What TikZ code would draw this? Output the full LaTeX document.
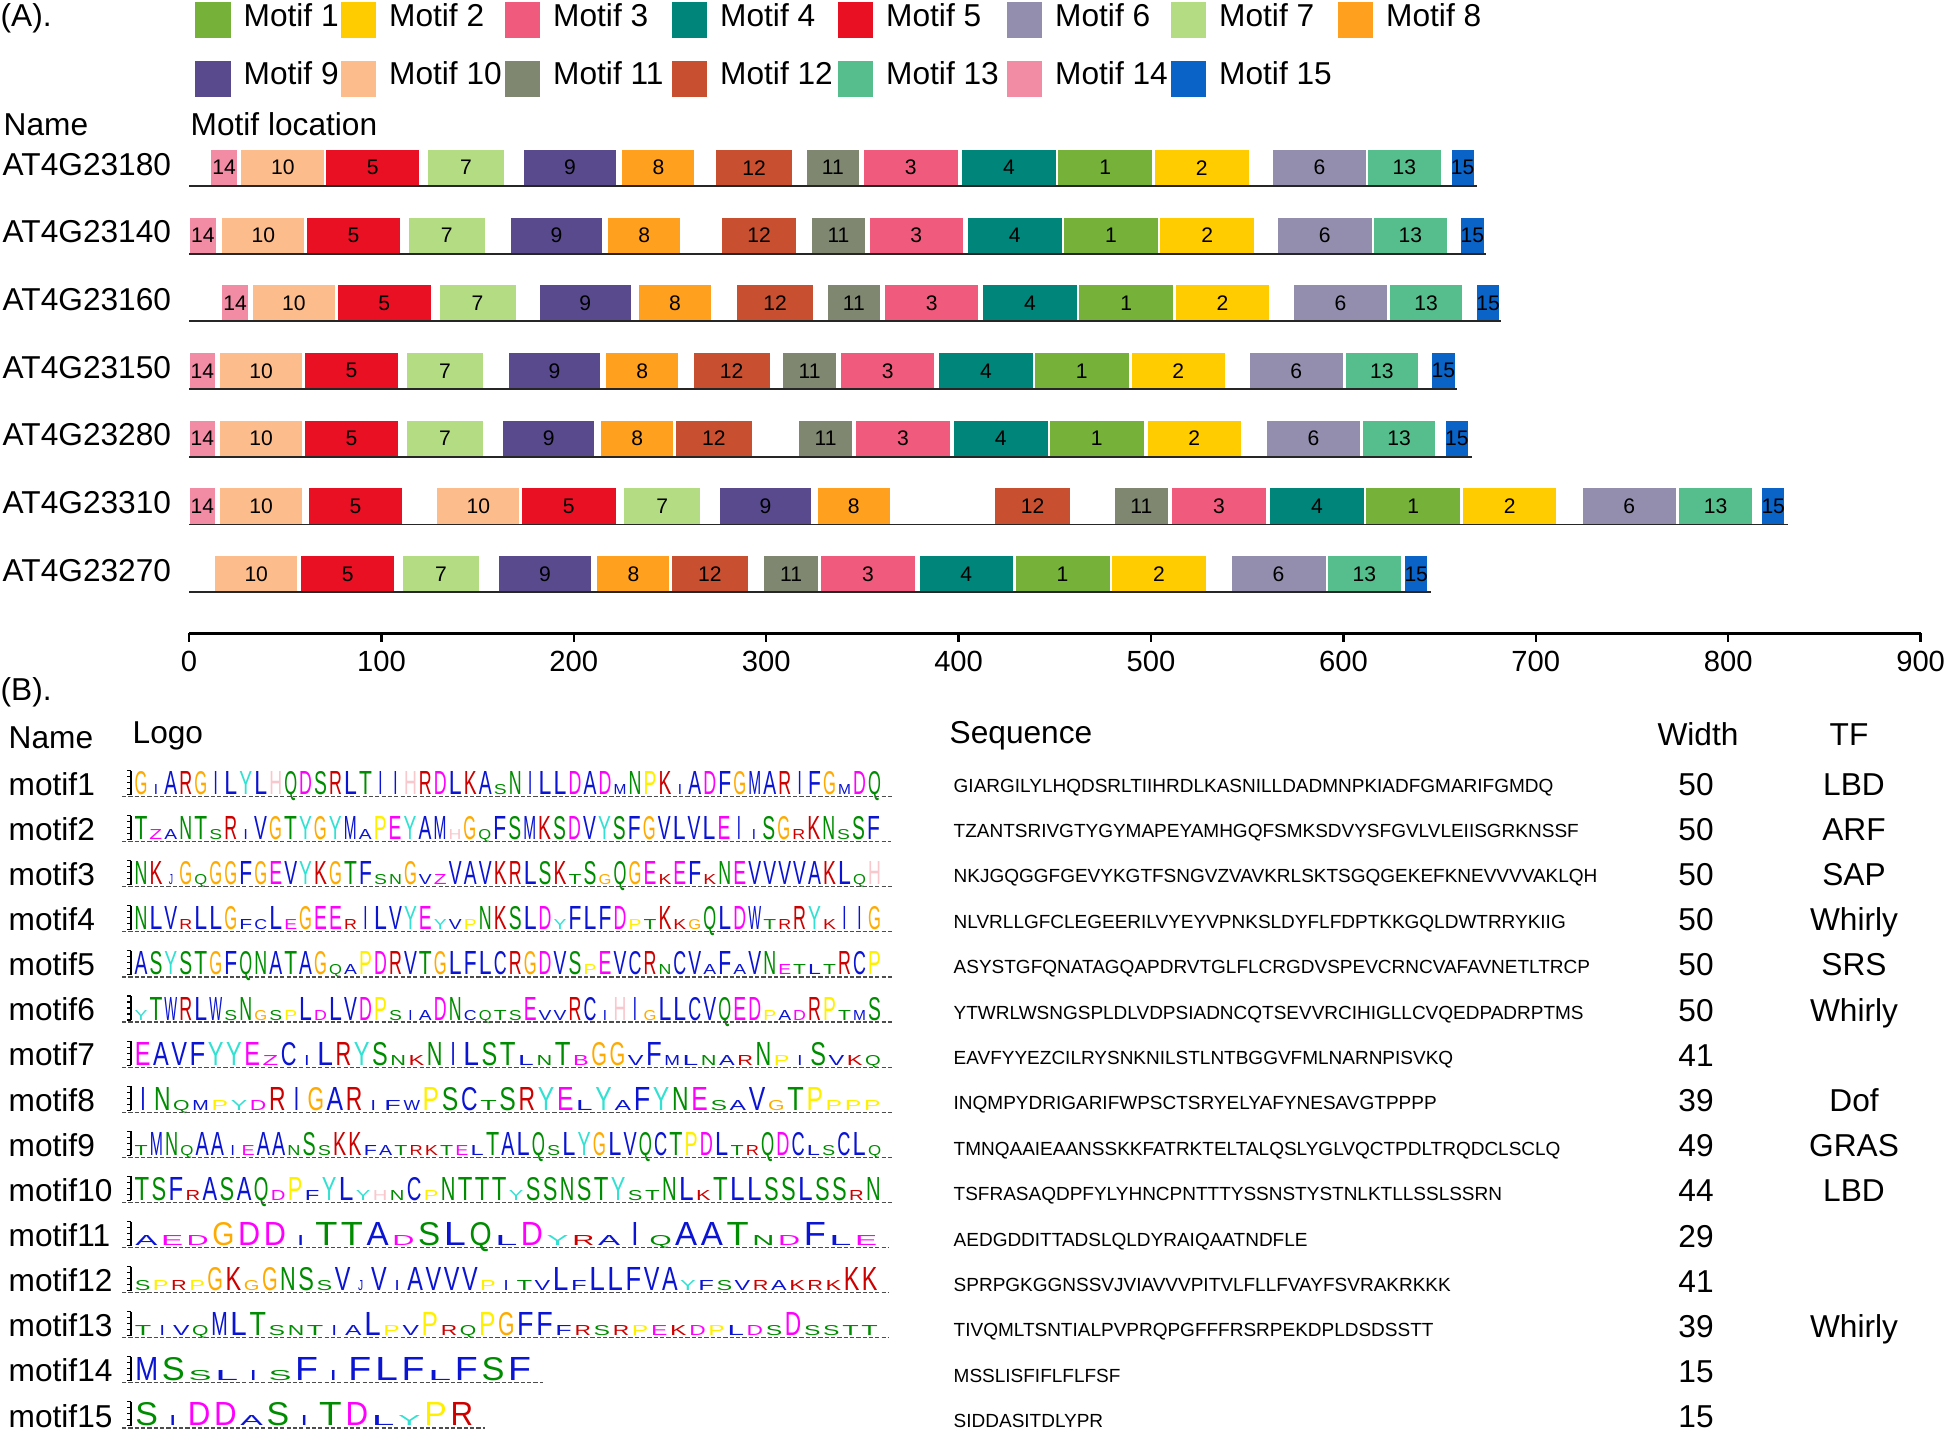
\documentclass[tikz,border=0pt]{standalone}
\usepackage{fontspec}
\setmainfont{Liberation Sans}
\usepackage{graphicx}
\usepackage{xcolor}
\usetikzlibrary{positioning}

% motif colours (panel A)
\definecolor{mc1}{RGB}{118,178,57}
\definecolor{mc2}{RGB}{255,204,0}
\definecolor{mc3}{RGB}{240,90,125}
\definecolor{mc4}{RGB}{0,133,122}
\definecolor{mc5}{RGB}{234,16,36}
\definecolor{mc6}{RGB}{148,142,174}
\definecolor{mc7}{RGB}{180,220,130}
\definecolor{mc8}{RGB}{255,160,30}
\definecolor{mc9}{RGB}{88,74,140}
\definecolor{mc10}{RGB}{253,188,140}
\definecolor{mc11}{RGB}{127,135,113}
\definecolor{mc12}{RGB}{200,80,48}
\definecolor{mc13}{RGB}{86,190,140}
\definecolor{mc14}{RGB}{242,140,165}
\definecolor{mc15}{RGB}{10,100,200}

% logo letter colours (panel B)
\definecolor{lgBlue}{RGB}{10,20,210}
\definecolor{lgGreen}{RGB}{0,140,0}
\definecolor{lgMag}{RGB}{255,0,255}
\definecolor{lgRed}{RGB}{205,0,0}
\definecolor{lgPink}{RGB}{248,200,205}
\definecolor{lgOrange}{RGB}{255,170,0}
\definecolor{lgYellow}{RGB}{255,240,0}
\definecolor{lgTurq}{RGB}{50,225,210}
\colorlet{aaA}{lgBlue}\colorlet{aaC}{lgBlue}\colorlet{aaF}{lgBlue}
\colorlet{aaI}{lgBlue}\colorlet{aaL}{lgBlue}\colorlet{aaM}{lgBlue}
\colorlet{aaV}{lgBlue}\colorlet{aaW}{lgBlue}\colorlet{aaJ}{lgBlue}
\colorlet{aaN}{lgGreen}\colorlet{aaQ}{lgGreen}\colorlet{aaS}{lgGreen}
\colorlet{aaT}{lgGreen}
\colorlet{aaD}{lgMag}\colorlet{aaE}{lgMag}\colorlet{aaB}{lgMag}
\colorlet{aaZ}{lgMag}
\colorlet{aaK}{lgRed}\colorlet{aaR}{lgRed}
\colorlet{aaH}{lgPink}\colorlet{aaG}{lgOrange}\colorlet{aaP}{lgYellow}
\colorlet{aaY}{lgTurq}

% one logo letter: capital = tall column, small letter = low column
\newcount\lgi
\def\lgIchar{I}
\def\lgJchar{J}
\newcommand\logoglyph[1]{%
  \ifnum\lccode`#1=`#1\relax\def\lgh{0.1cm}\else\def\lgh{0.23cm}\fi
  \uppercase{\def\lgU{#1}}%
  \let\lgww\lgw
  \ifx\lgU\lgIchar\let\lgww\lgwi\fi
  \ifx\lgU\lgJchar\let\lgww\lgwi\fi
  \color{aa\lgU}\resizebox{\lgww}{\lgh}{\lgU}}

\makeatletter
\newcommand\drawlogo[4]{% #1 motif, #2 baseline, #3 column width, #4 letters
  \global\lgi=0
  \pgfmathsetlengthmacro\lgw{0.86*#3*0.01cm}%
  \pgfmathsetlengthmacro\lgwi{0.28*#3*0.01cm}%
  \@tfor\lgc:=#4\do{%
    \pgfmathsetmacro\lgx{133.5+(\the\lgi+0.5)*#3}%
    \node[logoch] (logo#1-\the\lgi) at (\lgx,#2) {\expandafter\logoglyph\lgc};%
    \global\advance\lgi by 1\relax}%
  \draw[logoaxis] (131,#2) -- (131,{#2-24});
  \foreach \t in {0,...,4}{\draw[logoaxis] (131,{#2-6*\t}) -- (127,{#2-6*\t});}
  \draw[logobase] (122,{#2+2}) -- ({143.5+\the\lgi*#3},{#2+2});
}
\makeatother

\begin{document}
\begin{tikzpicture}[x=0.01cm,y=-0.01cm,
  lbl/.style={font=\fontsize{9}{11}\selectfont,inner sep=0pt,anchor=base west},
  lgdsq/.style={minimum width=0.355cm,minimum height=0.36cm,inner sep=0pt,
                anchor=north west},
  mbar/.style={draw=white,line width=0.3pt,minimum height=0.367cm,inner sep=0pt,
               font=\fontsize{6}{7}\selectfont},
  protline/.style={line width=0.55pt,draw=black!85},
  axisline/.style={line width=0.7pt},
  seqtxt/.style={font=\fontsize{5.4}{6}\selectfont,inner sep=0pt,anchor=base west},
  logoch/.style={anchor=base,inner sep=0pt},
  logobase/.style={dash pattern=on 1.2pt off 0.6pt,line width=0.35pt,draw=black!70},
  logoaxis/.style={line width=0.3pt}]

\useasboundingbox (0,0) rectangle (1946,1433);

% ===== PANEL A — legend =====
\node[lbl] (pA) at (0,26.7) {(A).};
\foreach \m/\x/\y in {1/194.5/1.7,2/340/1.7,3/504/1.7,4/671/1.7,5/837/1.7,
                      6/1006/1.7,7/1170/1.7,8/1337/1.7,
                      9/194.5/60,10/340/60,11/504/60,12/671/60,13/837/60,
                      14/1006/60,15/1170/60}{
  \node[lgdsq,fill=mc\m] (key\m) at (\x,\y) {};
  \node[lbl] (keyt\m) at ({\x+48.5},{\y+24.5}) {Motif \m};
}

\node[lbl] (hName) at (3,135) {Name};
\node[lbl] (hLoc) at (190,135) {Motif location};

% ===== PANEL A — motif bars per gene =====
\foreach \r/\g/\len/\segs in {
 1/AT4G23180/669.6/{14/11.2/25.4,10/27/70.5,5/71/120,7/124/164,9/174/222,8/225/263,12/273.7/313.7,11/320.7/348.6,3/350.6/399.7,4/401.5/450.9,1/451.5/500.9,2/501.6/551,6/563/612,13/612.6/650.8,15/656/668},
 2/AT4G23140/674/{14/0.2/14.3,10/17/60.2,5/61/110,7/114/154,9/167/215,8/217.6/255.7,12/276.6/316,11/323.6/351.5,3/353.6/402.4,4/404.5/453.8,1/454.5/503.9,2/504.5/554,6/565.6/615,13/615.6/654,15/661/673},
 3/AT4G23160/682/{14/17/31,10/33/76,5/77/126,7/130/170,9/182/230,8/233.5/271.6,12/284.6/324.7,11/331.6/359.5,3/361.5/410.6,4/412.4/461.8,1/462.4/511.8,2/512.5/561.8,6/574/623,13/624/662,15/669.3/681},
 4/AT4G23150/659/{14/0/14,10/16/59,5/60/109,7/113/153,9/166/214,8/216.6/254.6,12/262/302,11/308.5/336.6,3/338.6/387.7,4/389.5/439,1/439.5/488.6,2/489.6/538.7,6/551/600,13/601/639,15/646/658},
 5/AT4G23280/667/{14/0/14,10/16/59,5/60/109,7/113/153,9/163/211,8/214/252,12/252.8/292.9,11/316.7/345,3/346.6/395.7,4/397.3/446.5,1/447/496.6,2/498/547,6/560/609,13/610/648,15/653/665},
 6/AT4G23310/831/{14/0/14,10/16/59,5/62/111,10/128.8/171.9,5/172.8/222,7/225.9/266,9/275.6/323.6,8/326.6/364.4,12/418.6/458.4,11/481/509,3/510.6/560,4/561.6/611,1/611.6/661,2/662/711,6/724/773,13/774.4/812.5,15/817.4/829.4},
 7/AT4G23270/645.5/{10/13.4/56.5,5/58/107,7/111/151,9/161/209,8/212/250,12/250.8/290.6,11/298.8/327,3/328.4/377.4,4/379.4/428.6,1/429.3/478.7,2/479.4/528.8,6/541.6/591,13/591.8/630,15/631.9/643.8}}{
  \pgfmathsetmacro\ytop{149.3+67.7*(\r-1)}
  \node[lbl] (gene\r) at (2,{\ytop+25.7}) {\g};
  \foreach \m/\a/\b [count=\k] in \segs {
    \pgfmathsetmacro\bw{(\b-\a)*1.924*0.01}
    \node[mbar,fill=mc\m,minimum width=\bw cm] (bar\r-\k)
       at ({189+1.924*(\a+\b)/2},{\ytop+18.35}) {\m};
  }
  \draw[protline] (189,{\ytop+36.7}) -- ({189+1.924*\len},{\ytop+36.7});
}

% ===== PANEL A — scale =====
\draw[axisline] (189,633.3) -- (1921,633.3);
\foreach \t in {0,100,...,900}{
  \draw[axisline] ({189+1.924*\t},633.3) -- ++(0,8.5);
  \node[lbl,anchor=base,font=\fontsize{8.3}{10}\selectfont] (tick\t)
     at ({189+1.924*\t},671.7) {\t};
}

% ===== PANEL B — table header =====
\node[lbl] (pB) at (0,700) {(B).};
\node[lbl] (hName2) at (8,748) {Name};
\node[lbl] (hLogo) at (132,743) {Logo};
\node[lbl] (hSeq) at (949,743) {Sequence};
\node[lbl,anchor=base] (hWid) at (1698,745) {Width};
\node[lbl,anchor=base] (hTF) at (1849,745) {TF};

% ===== PANEL B — names, sequences, widths, families =====
\foreach \i/\s/\w/\tf in {
  1/GIARGILYLHQDSRLTIIHRDLKASNILLDADMNPKIADFGMARIFGMDQ/50/LBD,
  2/TZANTSRIVGTYGYMAPEYAMHGQFSMKSDVYSFGVLVLEIISGRKNSSF/50/ARF,
  3/NKJGQGGFGEVYKGTFSNGVZVAVKRLSKTSGQGEKEFKNEVVVVAKLQH/50/SAP,
  4/NLVRLLGFCLEGEERILVYEYVPNKSLDYFLFDPTKKGQLDWTRRYKIIG/50/Whirly,
  5/ASYSTGFQNATAGQAPDRVTGLFLCRGDVSPEVCRNCVAFAVNETLTRCP/50/SRS,
  6/YTWRLWSNGSPLDLVDPSIADNCQTSEVVRCIHIGLLCVQEDPADRPTMS/50/Whirly,
  7/EAVFYYEZCILRYSNKNILSTLNTBGGVFMLNARNPISVKQ/41/{},
  8/INQMPYDRIGARIFWPSCTSRYELYAFYNESAVGTPPPP/39/Dof,
  9/TMNQAAIEAANSSKKFATRKTELTALQSLYGLVQCTPDLTRQDCLSCLQ/49/GRAS,
  10/TSFRASAQDPFYLYHNCPNTTTYSSNSTYSTNLKTLLSSLSSRN/44/LBD,
  11/AEDGDDITTADSLQLDYRAIQAATNDFLE/29/{},
  12/SPRPGKGGNSSVJVIAVVVPITVLFLLFVAYFSVRAKRKKK/41/{},
  13/TIVQMLTSNTIALPVPRQPGFFFRSRPEKDPLDSDSSTT/39/Whirly,
  14/MSSLISFIFLFLFSF/15/{},
  15/SIDDASITDLYPR/15/{}}{
  \node[lbl] (mname\i) at (8,{795+45.15*(\i-1)}) {motif\i};
  \node[seqtxt] (seq\i) at (953,{792+45.4*(\i-1)}) {\s};
  \node[lbl,anchor=base] (wid\i) at (1696,{795+45.2*(\i-1)}) {\w};
  \node[lbl,anchor=base] (tf\i) at (1854,{795+45.2*(\i-1)}) {\tf};
}

% ===== PANEL B — logos =====
\drawlogo{1}{794.5}{14.97}{GiARGILYLHQDSRLTIIHRDLKAsNILLDADmNPKiADFGMARIFGmDQ}
\drawlogo{2}{839.6}{14.95}{TzaNTsRiVGTYGYMaPEYAMhGqFSMKSDVYSFGVLVLEIiSGrKNsSF}
\drawlogo{3}{884.7}{14.97}{NKjGqGGFGEVYKGTFsnGvzVAVKRLSKtSgQGEkEFkNEVVVVAKLqH}
\drawlogo{4}{929.8}{14.97}{NLVrLLGfcLeGEErILVYEyvpNKSLDyFLFDptKkgQLDWtrRYkIIG}
\drawlogo{5}{974.9}{14.97}{ASYSTGFQNATAGqaPDRVTGLFLCRGDVSpEVCRnCVaFaVNetltRCP}
\drawlogo{6}{1020}{14.97}{yTWRLWsNgspLdLVDPsiaDNcqtsEvvRCiHIgLLCVQEDpadRPtmS}
\drawlogo{7}{1065.1}{18.26}{EAVFYYEzCiLRYSnkNILSTlnTbGGvFmlnarNpiSvkq}
\drawlogo{8}{1110.2}{19.19}{INqmpydRIGARifwPSCtSRYElYaFYNEsaVgTPppp}
\drawlogo{9}{1155.3}{15.28}{tMNqAAieAAnSsKKfatrktelTALQsLYGLVQCTPDLtrQDClsCLq}
\drawlogo{10}{1200.4}{17.01}{TSFrASAQdPfYLyhnCpNTTTySSNSTYstNLkTLLSSLSSrN}
\drawlogo{11}{1245.5}{25.71}{aedGDDiTTAdSLQlDyraIqAATndFle}
\drawlogo{12}{1290.6}{18.18}{sprpGKgGNSsVjViAVVVpitvLfLLFVAyfsvrakrkKK}
\drawlogo{13}{1335.7}{19.12}{tivqMLTsntiaLpvPrqPGFFfrsrpekdpldsDsstt}
\drawlogo{14}{1380.8}{26.63}{MSslisFiFLFlFSF}
\drawlogo{15}{1425.9}{26.27}{SiDDaSiTDlyPR}
\end{tikzpicture}
\end{document}
